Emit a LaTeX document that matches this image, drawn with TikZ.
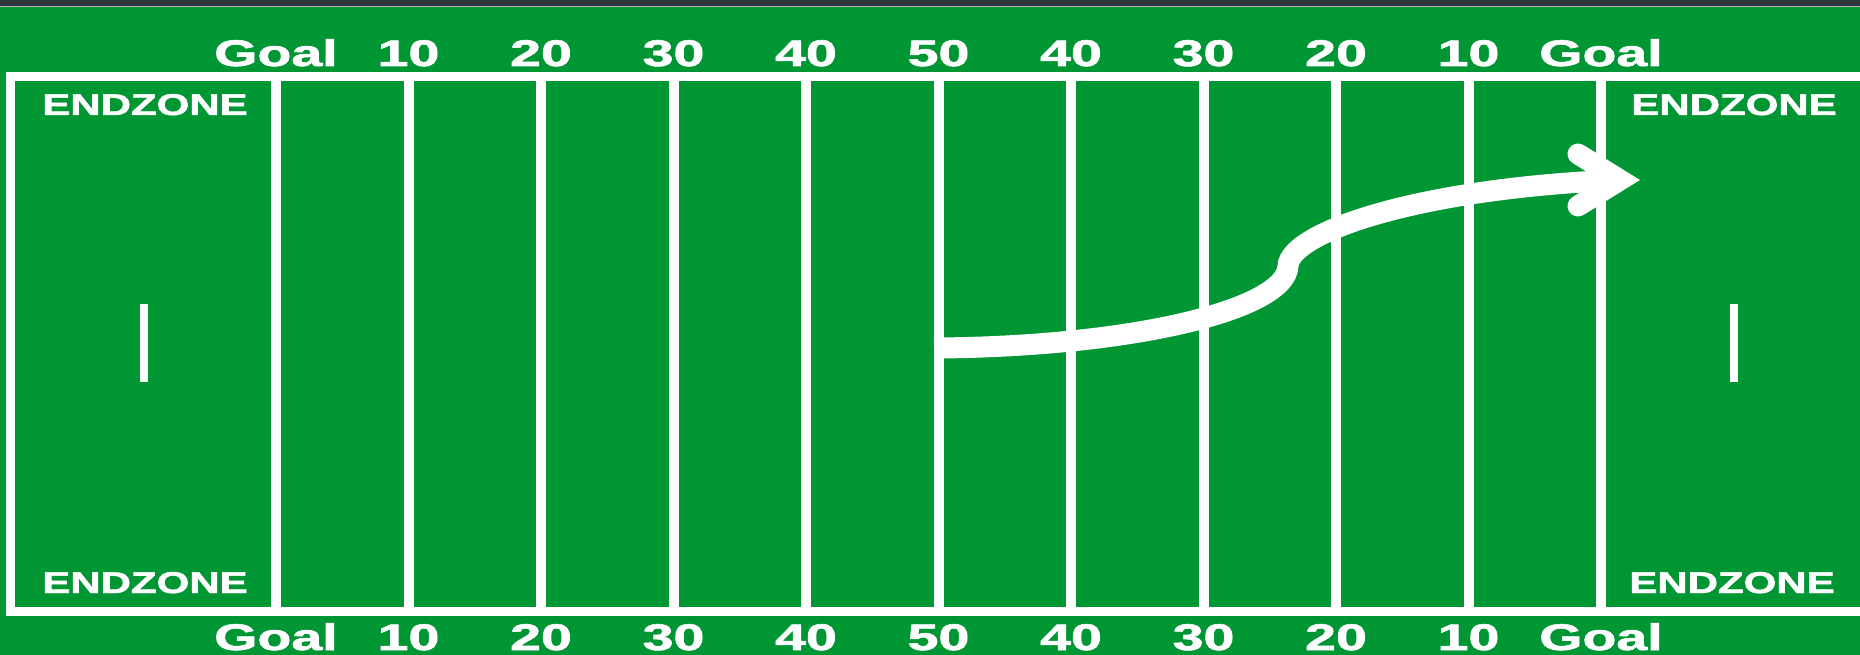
\documentclass[tikz,border=0pt]{standalone}
\usepackage{fontspec}
\setmainfont{Liberation Sans}[BoldFeatures={FakeBold=1.5}]
\usepackage{graphicx}
\definecolor{field}{RGB}{0,150,52}
\definecolor{band}{RGB}{44,56,62}
\begin{document}
\begin{tikzpicture}[x=1pt,y=-1pt,
  yard/.style={white,line width=10pt},
  lbl/.style={white,anchor=base,font=\bfseries\fontsize{37}{37}\selectfont,inner sep=0pt},
  ez/.style={white,anchor=base,font=\bfseries\fontsize{30}{30}\selectfont,inner sep=0pt},
  route/.style={white,line width=21pt},
  ]
\useasboundingbox (0,0) rectangle (1860,655);
\fill[field] (0,0) rectangle (1860,655);
\fill[band] (0,0) rectangle (1860,6);
\draw[gray!60, line width=1pt] (0,6.5) -- (1860,6.5);
% outer border
\draw[white,line width=9pt,line join=miter] (1872,77) -- (10,77) -- (10,611) -- (1872,611);
% yard lines
\foreach \i in {0,...,10} \draw[yard] (276+132.5*\i,77) -- (276+132.5*\i,611);
% labels
\foreach \t [count=\i from 0] in {Goal,10,20,30,40,50,40,30,20,10,Goal} {
  \node[lbl] (top\i) at (276+132.5*\i,66) {\scalebox{1.5}[1]{\t}};
  \node[lbl] (bot\i) at (276+132.5*\i,650) {\scalebox{1.5}[1]{\t}};
}
\node[ez] (ezTL) at (145,115) {\scalebox{1.4}[1]{ENDZONE}};
\node[ez] (ezBL) at (145,593) {\scalebox{1.4}[1]{ENDZONE}};
\node[ez] (ezTR) at (1734,115) {\scalebox{1.4}[1]{ENDZONE}};
\node[ez] (ezBR) at (1732,593) {\scalebox{1.4}[1]{ENDZONE}};
% end-zone marks
\draw[white,line width=8pt] (143.5,304) -- (143.5,382);
\draw[white,line width=8pt] (1734,304) -- (1734,382);
% route arrow
\coordinate (start) at (934,348);
\coordinate (mid) at (1288,266);
\coordinate (tip) at (1620,180);
\draw[route,line cap=butt] (start) .. controls (1130,347) and (1286,310) .. (mid)
   .. controls (1290,232) and (1420,188) .. (tip);
\draw[route,line cap=round,line join=miter] (1578,154) -- (tip) -- (1578,206);
\end{tikzpicture}
\end{document}
